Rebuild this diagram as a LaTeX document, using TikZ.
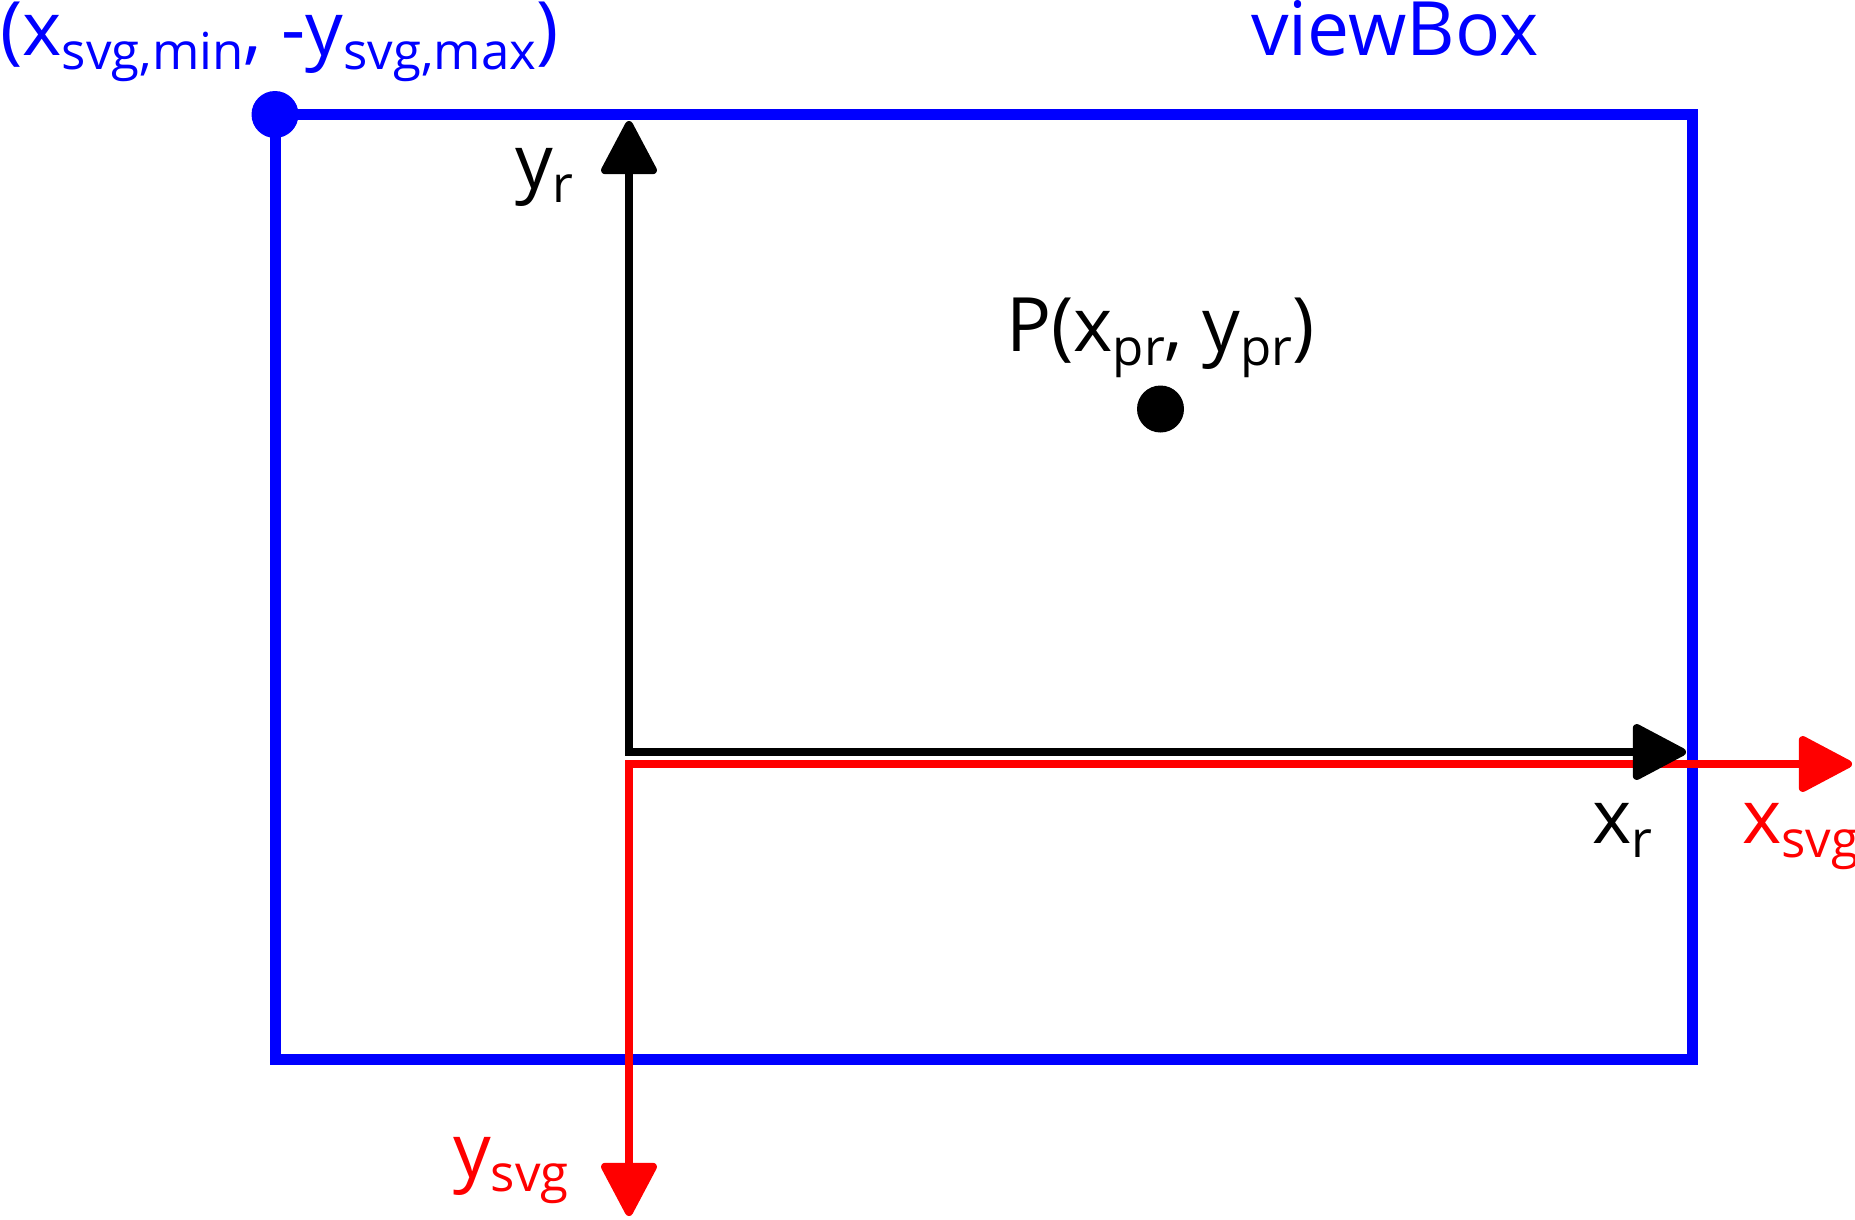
\documentclass[tikz,border=0pt]{standalone}
\usepackage{fontspec}
\setmainfont{Open Sans}
\usetikzlibrary{arrows.meta}
\newcommand\sbs[1]{\raisebox{-14pt}{\fontsize{51}{60}\selectfont #1}}
\begin{document}
\begin{tikzpicture}[x=1pt,y=-1pt,
  lbl/.style={anchor=base west,inner sep=0pt,font=\fontsize{75}{90}\selectfont},
  tipk/.style={{Triangle[length=58pt,width=59pt,round]}-{Triangle[length=58pt,width=59pt,round]}},
  dotk/.style={circle,fill,inner sep=0pt,minimum size=47pt}]
\useasboundingbox (0,0) rectangle (1855,1219);
% viewBox rectangle
\draw[blue,line width=11pt] (275,114.5) rectangle (1692,1059);
\node[dotk,blue] (corner) at (275,114.5) {};
% coordinates
\coordinate (ro) at (629,764);
\coordinate (rx) at (1852,764);
\coordinate (ry) at (629,1216);
\coordinate (bo) at (629,752);
\coordinate (bx) at (1686,752);
\coordinate (by) at (629,121);
\draw[red,line width=8pt,tipk] (ry) -- (ro) -- (rx);
\draw[black,line width=8pt,tipk] (by) -- (bo) -- (bx);
% point P
\node[dotk,black] (pt) at (1160.5,409) {};
% labels
\node[lbl,blue] (lmin) at (0,55) {(x\sbs{svg,min}, -y\sbs{svg,max})};
\node[lbl,blue] (lvb) at (1251,55) {viewBox};
\node[lbl] (lyr) at (515,188) {y\sbs{r}};
\node[lbl] (lp) at (1006,351) {P(x\sbs{pr}, y\sbs{pr})};
\node[lbl] (lxr) at (1592,843) {x\sbs{r}};
\node[lbl,red] (lxs) at (1742,843) {x\sbs{svg}};
\node[lbl,red] (lys) at (453,1177) {y\sbs{svg}};
\end{tikzpicture}
\end{document}
